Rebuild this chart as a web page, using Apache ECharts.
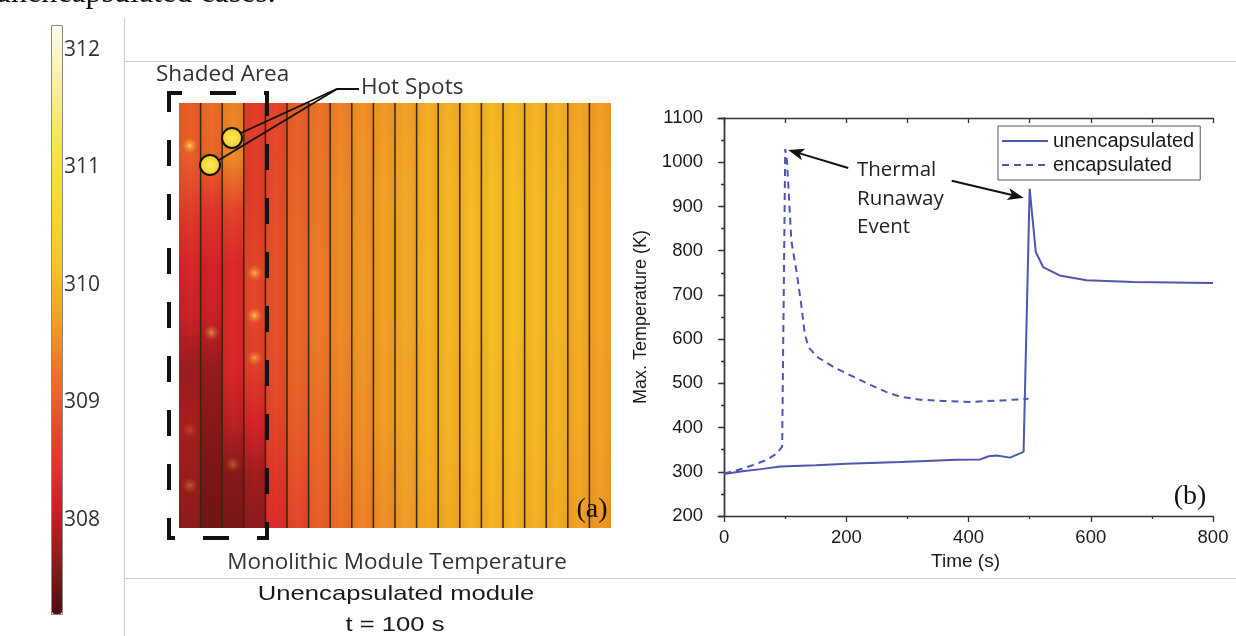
<!DOCTYPE html>
<html>
<head>
<meta charset="utf-8">
<script src="https://cdn.jsdelivr.net/npm/echarts@6/dist/echarts.min.js"></script>
<style>
  html, body { margin: 0; padding: 0; background: #ffffff; }
  #chart { width: 1236px; height: 636px; }
</style>
</head>
<body>
<div id="chart"></div>
<script>
// ---- Temperature colour scale (K): colours spread evenly from SCALE_MIN to SCALE_MAX ----
const SCALE_MIN = 307.2;
const SCALE_MAX = 312.2;
const SCALE_COLORS = ['#4e0e0e', '#951c1c', '#d8222a', '#e5452a', '#ec6e28', '#f39e26',
                      '#f8c822', '#f5dc2a', '#f5e650', '#f8ef9c', '#fdfbec'];
const SCALE_TICKS = [308, 309, 310, 311, 312];

// ---- Module cells, left to right; each profile runs top -> bottom (K) ----
const CELL_NAMES = ['1', '2', '3', '4', '5', '6', '7', '8', '9', '10',
                    '11', '12', '13', '14', '15', '16', '17', '18', '19', '20'];
const CELL_1  = [309.0, 309.0, 308.6, 308.25, 308.1, 307.75, 307.85, 307.75, 307.65];
const CELL_2  = [309.2, 309.1, 308.5, 308.2, 308.1, 307.7, 307.6, 307.5, 307.45];
const CELL_3  = [309.4, 309.5, 308.7, 308.3, 308.3, 308.25, 308.0, 307.6, 307.5];
const CELL_4  = [308.6, 308.6, 308.6, 308.7, 308.7, 308.6, 308.2, 307.8, 307.65];
const CELL_5  = [308.7, 308.75, 308.8, 308.85, 308.85, 308.8, 308.7, 308.5, 308.35];
const CELL_6  = [309.0, 309.05, 309.1, 309.15, 309.15, 309.1, 309.0, 308.85, 308.7];
const CELL_7  = [309.25, 309.3, 309.3, 309.35, 309.35, 309.3, 309.2, 309.1, 309.0];
const CELL_8  = [309.4, 309.45, 309.5, 309.5, 309.5, 309.45, 309.4, 309.3, 309.2];
const CELL_9  = [309.55, 309.6, 309.6, 309.65, 309.65, 309.6, 309.55, 309.5, 309.4];
const CELL_10 = [309.65, 309.7, 309.75, 309.75, 309.75, 309.7, 309.7, 309.6, 309.55];
const CELL_11 = [309.75, 309.8, 309.85, 309.85, 309.85, 309.8, 309.8, 309.75, 309.7];
const CELL_12 = [309.85, 309.9, 309.9, 309.95, 309.95, 309.9, 309.9, 309.85, 309.8];
const CELL_13 = [309.9, 309.95, 310.0, 310.0, 310.0, 309.95, 309.95, 309.9, 309.85];
const CELL_14 = [309.95, 310.0, 310.05, 310.05, 310.05, 310.0, 310.0, 309.95, 309.9];
const CELL_15 = [310.0, 310.05, 310.1, 310.1, 310.1, 310.05, 310.05, 310.0, 309.95];
const CELL_16 = [310.0, 310.05, 310.1, 310.1, 310.1, 310.05, 310.05, 310.0, 309.95];
const CELL_17 = [309.95, 310.0, 310.05, 310.05, 310.05, 310.0, 310.0, 309.95, 309.9];
const CELL_18 = [309.9, 309.95, 310.0, 310.0, 310.0, 309.95, 309.95, 309.9, 309.85];
const CELL_19 = [309.8, 309.85, 309.9, 309.9, 309.9, 309.85, 309.85, 309.8, 309.75];
const CELL_20 = [309.7, 309.75, 309.8, 309.8, 309.8, 309.75, 309.75, 309.7, 309.65];
const CELL_PROFILES = [CELL_1, CELL_2, CELL_3, CELL_4, CELL_5, CELL_6, CELL_7, CELL_8, CELL_9, CELL_10,
                       CELL_11, CELL_12, CELL_13, CELL_14, CELL_15, CELL_16, CELL_17, CELL_18, CELL_19, CELL_20];

// Local warm spots: [cell index, height from bottom (0..1), strength]
const HOT_GLOWS = [[0, 0.90, 0.9], [3, 0.60, 0.75], [3, 0.50, 0.8], [3, 0.40, 0.6],
                   [1, 0.46, 0.55], [2, 0.15, 0.35], [0, 0.10, 0.35], [0, 0.23, 0.2]];

// ---- Max. temperature history ----
const TIME_MAJOR = [0, 200, 400, 600, 800];
const TIME_MINOR = [100, 300, 500, 700];
const TIME_ALL = [0, 100, 200, 300, 400, 500, 600, 700, 800];
const UNENC_TIME = [0, 30, 60, 92, 150, 201, 288, 321, 380, 419, 433, 446, 468, 490, 500, 510, 522, 549, 593, 669, 800];
const UNENC_TEMP = [295, 301, 306, 312, 315, 318, 322, 324, 327, 328, 335, 337, 332, 345, 940, 797, 763, 744, 733, 729, 727];
const ENC_TIME = [0, 20, 47, 70, 86, 95, 100, 103, 110, 119, 126, 132, 138, 152, 179, 201, 240, 266, 288, 321, 360, 402, 451, 498];
const ENC_TEMP = [296, 303, 315, 327, 341, 357, 1030, 1000, 823, 748, 680, 612, 582, 560, 537, 522, 496, 480, 470, 463, 460, 458, 461, 465];

const LINE_COLOR = '#4d56b0';
const SANS = 'Open Sans';
const ARIAL = 'Liberation Sans';
const SERIF = 'Liberation Serif';

function tempColor(v) {
  return echarts.color.lerp((v - SCALE_MIN) / (SCALE_MAX - SCALE_MIN), SCALE_COLORS);
}

// One module cell: vertical colour gradient from its profile, dark divider on its left edge
function renderCell(params, api) {
  const i = api.value(0);
  const top = api.coord([i, 1]);
  const bottom = api.coord([i, 0]);
  const w = api.size([1, 0])[0];
  const prof = CELL_PROFILES[i];
  const stops = prof.map((v, k) => ({ offset: k / (prof.length - 1), color: tempColor(v) }));
  const x0 = top[0] - w / 2;
  const shape = { x: x0, y: top[1], width: w, height: bottom[1] - top[1] };
  const children = [
    { type: 'rect', shape: shape, style: { fill: new echarts.graphic.LinearGradient(0, 0, 0, 1, stops) } },
    { type: 'rect', shape: shape, style: { fill: new echarts.graphic.LinearGradient(0, 0, 1, 0, [
      { offset: 0, color: 'rgba(60,20,0,0.07)' }, { offset: 0.5, color: 'rgba(60,20,0,0)' },
      { offset: 1, color: 'rgba(60,20,0,0.07)' }]) } }
  ];
  if (i > 0) {
    children.push({ type: 'line', shape: { x1: x0, y1: top[1], x2: x0, y2: bottom[1] },
      style: { stroke: '#3b2408', lineWidth: 1.5 } });
  }
  return { type: 'group', children: children };
}

const axisLineStyle = { color: '#333', width: 1.4 };
const plainNumber = v => String(v);

const chart = echarts.init(document.getElementById('chart'), null, { renderer: 'canvas' });

const option = {
  backgroundColor: '#ffffff',
  animation: false,
  grid: [
    { left: 52, top: 26, width: 10, height: 588 },          // colour bar scale
    { left: 179, top: 103, width: 432, height: 425 },        // module map
    { left: 718, top: 118, right: 23, bottom: 120 }          // temperature history
  ],
  visualMap: {
    type: 'continuous',
    seriesIndex: 0,
    min: SCALE_MIN, max: SCALE_MAX,
    calculable: false,
    left: 52, top: 26, padding: 0,
    itemWidth: 10, itemHeight: 588,
    inRange: { color: SCALE_COLORS },
    showLabel: false
  },
  xAxis: [
    { gridIndex: 0, type: 'value', show: false, min: 0, max: 1 },
    { gridIndex: 1, type: 'category', data: CELL_NAMES, show: false, boundaryGap: true },
    {
      gridIndex: 2, type: 'value', min: -10, max: 800, position: 'bottom',
      name: 'Time (s)', nameLocation: 'middle', nameGap: 36,
      nameTextStyle: { fontFamily: ARIAL, fontSize: 19, color: '#1a1a1a' },
      axisLine: { lineStyle: axisLineStyle },
      axisTick: { customValues: TIME_MAJOR, length: 6, lineStyle: { color: '#333', width: 1.3 } },
      axisLabel: { customValues: TIME_MAJOR, formatter: plainNumber, fontFamily: ARIAL, fontSize: 18.5,
        color: '#1a1a1a', margin: 12 },
      splitLine: { show: false }
    },
    {
      gridIndex: 2, type: 'value', min: -10, max: 800, position: 'bottom',
      axisLine: { show: false },
      axisTick: { customValues: TIME_MINOR, length: 3, lineStyle: { color: '#333', width: 1.3 } },
      axisLabel: { show: false }, splitLine: { show: false }
    },
    {
      gridIndex: 2, type: 'value', min: -10, max: 800, position: 'top',
      axisLine: { lineStyle: axisLineStyle },
      axisTick: { customValues: TIME_ALL, inside: true, length: 5, lineStyle: { color: '#333', width: 1.3 } },
      axisLabel: { show: false }, splitLine: { show: false }
    }
  ],
  yAxis: [
    {
      gridIndex: 0, type: 'value', min: SCALE_MIN, max: SCALE_MAX, position: 'right',
      axisLine: { show: false }, axisTick: { show: false }, splitLine: { show: false },
      axisLabel: { customValues: SCALE_TICKS, fontFamily: SANS, fontSize: 21, color: '#333', margin: 2 }
    },
    {
      gridIndex: 0, type: 'value', min: SCALE_MIN, max: SCALE_MAX, position: 'left',
      axisLine: { show: false }, splitLine: { show: false }, axisLabel: { show: false },
      axisTick: { customValues: SCALE_TICKS, inside: true, length: 3, lineStyle: { color: '#666', width: 1 } }
    },
    { gridIndex: 1, type: 'value', min: 0, max: 1, show: false },
    {
      gridIndex: 2, type: 'value', min: 200, max: 1100, interval: 100, position: 'left',
      name: 'Max. Temperature (K)', nameLocation: 'middle', nameGap: 68,
      nameTextStyle: { fontFamily: ARIAL, fontSize: 18, color: '#1a1a1a' },
      axisLine: { show: true, lineStyle: axisLineStyle },
      axisTick: { show: true, length: 6, lineStyle: { color: '#333', width: 1.3 } },
      minorTick: { show: true, splitNumber: 2, length: 3, lineStyle: { color: '#333', width: 1.3 } },
      axisLabel: { formatter: plainNumber, fontFamily: ARIAL, fontSize: 18.5, color: '#1a1a1a', margin: 15 },
      splitLine: { show: false }, minorSplitLine: { show: false }
    },
    {
      gridIndex: 2, type: 'value', min: 200, max: 1100, interval: 100, position: 'right',
      axisLine: { show: true, lineStyle: axisLineStyle },
      axisTick: { show: true, inside: true, length: 5, lineStyle: { color: '#333', width: 1.3 } },
      minorTick: { show: true, splitNumber: 2, length: 3, lineStyle: { color: '#333', width: 1.3 } },
      axisLabel: { show: false }, splitLine: { show: false }
    }
  ],
  legend: {
    data: ['unencapsulated', 'encapsulated'],
    orient: 'vertical',
    left: 998, top: 126,
    padding: [5, 6, 5, 3],
    itemGap: 4, itemWidth: 46, itemHeight: 16,
    borderColor: '#555', borderWidth: 1,
    itemStyle: { opacity: 0 },
    textStyle: { fontFamily: ARIAL, fontSize: 20, color: '#1a1a1a' }
  },
  series: [
    {
      type: 'custom', xAxisIndex: 1, yAxisIndex: 2,
      renderItem: renderCell,
      encode: { x: 0, y: 1 },
      data: CELL_PROFILES.map((p, i) => [i, 0.5]),
      silent: true, z: 2
    },
    {
      type: 'scatter', xAxisIndex: 1, yAxisIndex: 2, symbolSize: 16, silent: true, z: 3,
      itemStyle: {
        color: new echarts.graphic.RadialGradient(0.5, 0.5, 0.5, [
          { offset: 0, color: 'rgba(255,232,90,0.95)' },
          { offset: 0.45, color: 'rgba(255,200,70,0.45)' },
          { offset: 1, color: 'rgba(255,170,60,0)' }])
      },
      data: HOT_GLOWS.map(g => ({ value: [g[0], g[1]], itemStyle: { opacity: g[2] } }))
    },
    {
      name: 'unencapsulated', type: 'line', xAxisIndex: 2, yAxisIndex: 3,
      symbol: 'none', color: LINE_COLOR,
      lineStyle: { color: LINE_COLOR, width: 2 },
      data: UNENC_TIME.map((t, k) => [t, UNENC_TEMP[k]]), z: 5
    },
    {
      name: 'encapsulated', type: 'line', xAxisIndex: 2, yAxisIndex: 3,
      symbol: 'none', color: LINE_COLOR,
      lineStyle: { color: LINE_COLOR, width: 2, type: [7, 5] },
      data: ENC_TIME.map((t, k) => [t, ENC_TEMP[k]]), z: 5
    }
  ]
};

chart.setOption(option);

// ---- Annotations ----
function arrow(tail, tip) {
  const dx = tip[0] - tail[0], dy = tip[1] - tail[1];
  const len = Math.sqrt(dx * dx + dy * dy);
  const ux = dx / len, uy = dy / len;
  const headLen = 16, headHalf = 6;
  const bx = tip[0] - ux * headLen, by = tip[1] - uy * headLen;
  const notchX = tip[0] - ux * headLen * 0.75, notchY = tip[1] - uy * headLen * 0.75;
  return [
    { type: 'line', z: 100, shape: { x1: tail[0], y1: tail[1], x2: notchX, y2: notchY },
      style: { stroke: '#111', lineWidth: 2 } },
    { type: 'polygon', z: 100, shape: { points: [
        tip, [bx - uy * headHalf, by + ux * headHalf], [notchX, notchY], [bx + uy * headHalf, by - ux * headHalf]] },
      style: { fill: '#111' } }
  ];
}

const encPeakIdx = ENC_TEMP.indexOf(Math.max.apply(null, ENC_TEMP));
const unencPeakIdx = UNENC_TEMP.indexOf(Math.max.apply(null, UNENC_TEMP));
const encPeak = chart.convertToPixel({ xAxisIndex: 2, yAxisIndex: 3 }, [ENC_TIME[encPeakIdx], ENC_TEMP[encPeakIdx]]);
const unencPeak = chart.convertToPixel({ xAxisIndex: 2, yAxisIndex: 3 }, [UNENC_TIME[unencPeakIdx], UNENC_TEMP[unencPeakIdx]]);
const tip1 = [encPeak[0] + 3, encPeak[1] + 1];
const tip2 = [unencPeak[0] - 6, unencPeak[1] + 9];

const textBase = { fontFamily: SANS, fontSize: 22.5, fill: '#333' };

const elements = [
  // running text above the figure (baseline sits just below the top edge)
  { type: 'text', z: 100, style: { x: -5, y: 10, text: 'unencapsulated cases.', fontFamily: SERIF,
      fontSize: 32, fill: '#111', verticalAlign: 'bottom' } },
  // panel frame lines
  { type: 'line', z: 100, shape: { x1: 124.5, y1: 18, x2: 124.5, y2: 636 }, style: { stroke: '#cfcfcf', lineWidth: 1 } },
  { type: 'line', z: 100, shape: { x1: 124, y1: 61.5, x2: 1236, y2: 61.5 }, style: { stroke: '#cfcfcf', lineWidth: 1 } },
  { type: 'line', z: 100, shape: { x1: 124, y1: 578.5, x2: 1236, y2: 578.5 }, style: { stroke: '#cfcfcf', lineWidth: 1 } },
  // colour bar outline
  { type: 'rect', z: 100, shape: { x: 51.5, y: 25.5, width: 11, height: 589 },
    style: { fill: 'none', stroke: '#8a8a8a', lineWidth: 1 } },
  // module map labels
  { type: 'text', z: 100, style: Object.assign({ x: 156, y: 75, text: 'Shaded Area', verticalAlign: 'middle' }, textBase) },
  { type: 'text', z: 100, style: Object.assign({ x: 361, y: 88, text: 'Hot Spots', verticalAlign: 'middle' }, textBase) },
  { type: 'text', z: 100, style: Object.assign({ x: 397, y: 563, text: 'Monolithic Module Temperature',
      align: 'center', verticalAlign: 'middle' }, textBase) },
  { type: 'text', z: 100, x: 396, y: 594, scaleX: 1.22,
    style: { x: 0, y: 0, text: 'Unencapsulated module', fontFamily: ARIAL, fontSize: 21, fill: '#1a1a1a',
      align: 'center', verticalAlign: 'middle' } },
  { type: 'text', z: 100, x: 395, y: 625, scaleX: 1.22,
    style: { x: 0, y: 0, text: 't = 100 s', fontFamily: ARIAL, fontSize: 21, fill: '#1a1a1a',
      align: 'center', verticalAlign: 'middle' } },
  // shaded area outline
  { type: 'rect', z: 100, shape: { x: 169, y: 93, width: 98, height: 445 },
    style: { fill: 'none', stroke: '#111', lineWidth: 4, lineDash: [26, 28], lineDashOffset: 13 } },
  // hot spot callouts
  { type: 'polyline', z: 100, shape: { points: [[241, 133], [337, 89], [359, 89]] },
    style: { fill: 'none', stroke: '#111', lineWidth: 1.8 } },
  { type: 'line', z: 100, shape: { x1: 219, y1: 160, x2: 337, y2: 89 }, style: { stroke: '#111', lineWidth: 1.8 } },
  { type: 'circle', z: 101, shape: { cx: 232, cy: 138, r: 10 },
    style: { stroke: '#111', lineWidth: 2, fill: new echarts.graphic.RadialGradient(0.5, 0.5, 0.6, [
      { offset: 0, color: '#fbe95a' }, { offset: 1, color: '#f2c81c' }]) } },
  { type: 'circle', z: 101, shape: { cx: 210, cy: 165, r: 10 },
    style: { stroke: '#111', lineWidth: 2, fill: new echarts.graphic.RadialGradient(0.5, 0.5, 0.6, [
      { offset: 0, color: '#fbe95a' }, { offset: 1, color: '#f2c81c' }]) } },
  // panel letters
  { type: 'text', z: 100, style: { x: 592, y: 510, text: '(a)', fontFamily: SERIF, fontSize: 28, fill: '#111',
      align: 'center', verticalAlign: 'middle' } },
  { type: 'text', z: 100, style: { x: 1190, y: 497, text: '(b)', fontFamily: SERIF, fontSize: 28, fill: '#111',
      align: 'center', verticalAlign: 'middle' } },
  // runaway annotation
  { type: 'text', z: 100, style: { x: 857, y: 156, text: 'Thermal\nRunaway\nEvent', fontFamily: SANS,
      fontSize: 20.5, lineHeight: 28.5, fill: '#222', verticalAlign: 'top' } }
].concat(arrow([tip1[0] + 60, tip1[1] + 18], tip1), arrow([tip2[0] - 72, tip2[1] - 17], tip2));

chart.setOption({ graphic: { elements: elements } });
</script>
</body>
</html>
